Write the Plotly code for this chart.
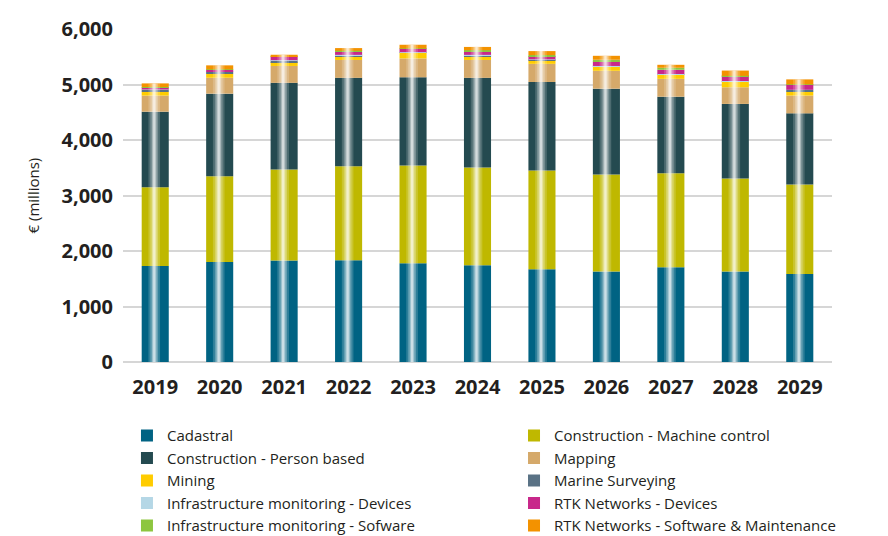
import plotly.graph_objects as go
import numpy as np

years = ["2019", "2020", "2021", "2022", "2023", "2024", "2025", "2026", "2027", "2028", "2029"]

cadastral      = [1730, 1800, 1830, 1835, 1780, 1745, 1670, 1630, 1705, 1630, 1585]
constr_machine = [1420, 1545, 1640, 1690, 1760, 1760, 1780, 1750, 1695, 1675, 1615]
constr_person  = [1360, 1490, 1560, 1595, 1590, 1615, 1595, 1545, 1380, 1345, 1280]
mapping        = [290, 286, 304, 322, 340, 322, 327, 322, 322, 300, 320]
mining         = [70, 71, 71, 66, 105, 66, 66, 71, 71, 105, 72]
marine         = [35, 36, 30, 23, 5, 23, 12, 13, 13, 5, 30]
infra_devices  = [5, 5, 3, 3, 3, 3, 3, 3, 3, 3, 3]
rtk_devices    = [40, 35, 60, 54, 64, 59, 59, 82, 76, 90, 95]
infra_software = [5, 5, 3, 20, 3, 25, 18, 30, 36, 3, 3]
rtk_software   = [65, 72, 35, 48, 66, 59, 72, 71, 54, 95, 89]

series_names = [
    "Cadastral", "Construction - Machine control", "Construction - Person based", "Mapping",
    "Mining", "Marine Surveying", "Infrastructure monitoring - Devices", "RTK Networks - Devices",
    "Infrastructure monitoring - Sofware", "RTK Networks - Software & Maintenance",
]
series_values = [cadastral, constr_machine, constr_person, mapping, mining, marine,
                 infra_devices, rtk_devices, infra_software, rtk_software]
colors = ["#006383", "#bfb800", "#244a50", "#d5a96a", "#ffcc00", "#5a7285",
          "#b5d7e6", "#c8288a", "#8dc63f", "#f39200"]

y_ticks = [0, 1000, 2000, 3000, 4000, 5000, 6000]
y_ticktext = ["0", "1,000", "2,000", "3,000", "4,000", "5,000", "6,000"]

BAR_W = 0.42
fig = go.Figure()
base = np.zeros(len(years))
for i, (name, vals, col) in enumerate(zip(series_names, series_values, colors)):
    v = np.array(vals, dtype=float)
    fig.add_trace(go.Bar(
        x=years, y=v, base=base.copy(), name=name,
        marker=dict(color=col, line=dict(width=0)),
        width=BAR_W, offset=-BAR_W / 2,
        legend="legend" if i % 2 == 0 else "legend2",
    ))
    base = base + v

totals = base
# glossy highlight stripes
for w, op in [(0.18, 0.18), (0.12, 0.25), (0.07, 0.35), (0.035, 0.5)]:
    fig.add_trace(go.Bar(
        x=years, y=totals, base=0, showlegend=False, hoverinfo="skip",
        marker=dict(color="white", line=dict(width=0)), opacity=op,
        width=w, offset=-w / 2 - 0.015,
    ))

FONT = "Open Sans"
TXT = "#231f20"
leg_common = dict(
    orientation="v", yanchor="top", xanchor="left",
    font=dict(family=FONT, size=15, color=TXT),
    traceorder="normal", tracegroupgap=0, itemwidth=30,
    bgcolor="rgba(0,0,0,0)",
)
fig.update_layout(
    width=888, height=536,
    barmode="overlay",
    plot_bgcolor="white", paper_bgcolor="white",
    margin=dict(l=115, r=64, t=21, b=182, autoexpand=False),
    font=dict(family=FONT, color=TXT),
    xaxis=dict(
        type="category", categoryorder="array", categoryarray=years,
        showgrid=False, zeroline=False, showline=False, ticks="",
        tickfont=dict(family=FONT, size=20, color=TXT, weight="bold"),
        ticklabelstandoff=11,
    ),
    yaxis=dict(
        range=[0, 6000], tickvals=y_ticks, ticktext=y_ticktext,
        showgrid=True, gridcolor="#d6d6d6", gridwidth=2,
        zeroline=True, zerolinecolor="#d6d6d6", zerolinewidth=2,
        showline=False, ticks="",
        tickfont=dict(family=FONT, size=20, color=TXT, weight="bold"),
        ticklabelstandoff=9,
    ),
    legend=dict(x=0.0056, y=-0.172, **leg_common),
    legend2=dict(x=0.5515, y=-0.172, **leg_common),
    annotations=[dict(
        text="€ (millions)", textangle=-90, xref="paper", yref="paper",
        x=-0.127, y=0.5, xanchor="center", yanchor="middle", showarrow=False,
        font=dict(family=FONT, size=15, color=TXT),
    )],
)

fig.write_html("out.html")
